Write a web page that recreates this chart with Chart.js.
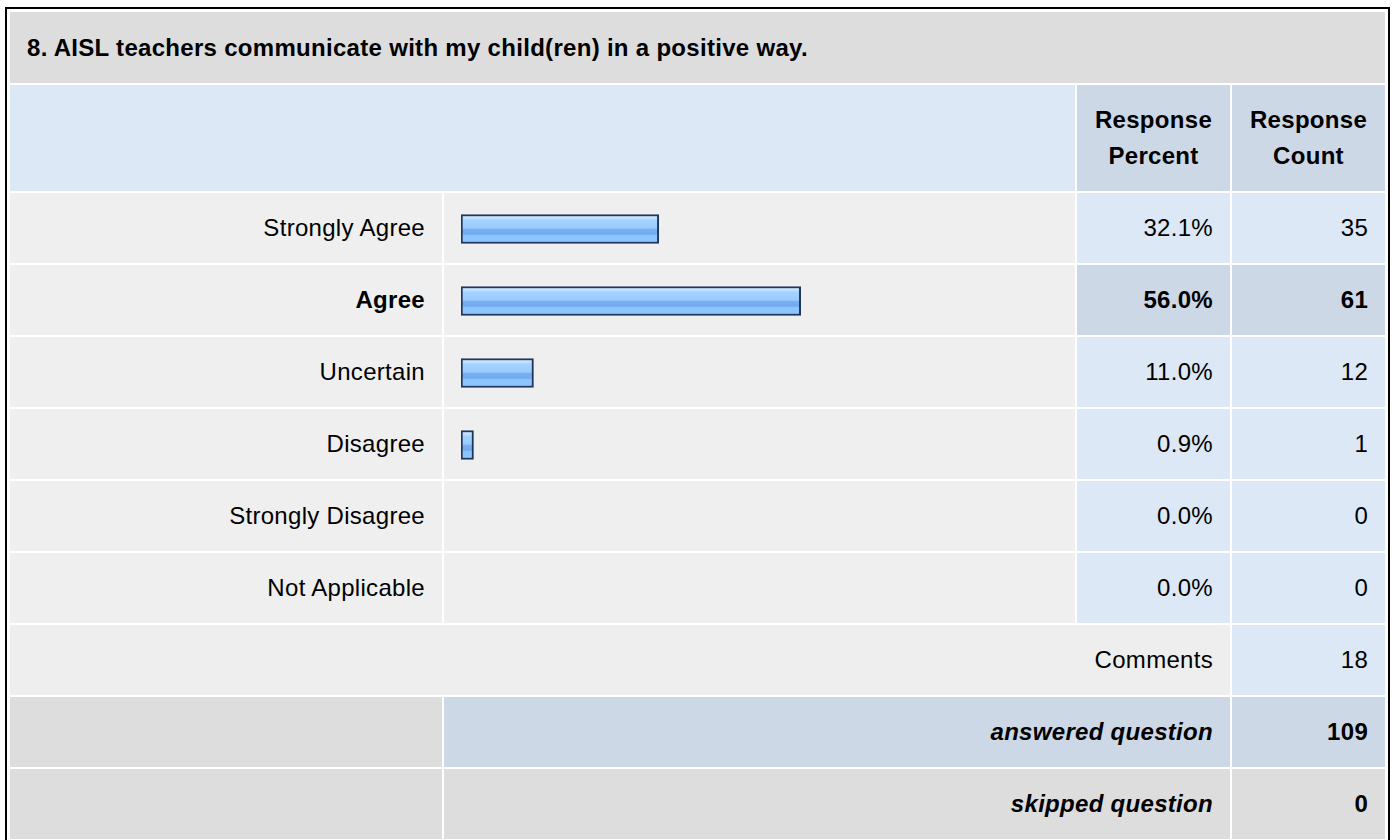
<!DOCTYPE html>
<html>
<head>
<meta charset="utf-8">
<script src="https://cdn.jsdelivr.net/npm/chart.js@4.4.0/dist/chart.umd.min.js"></script>
<style>
  html, body { margin: 0; padding: 0; background: #fff; }
  body { width: 1394px; height: 840px; overflow: hidden; position: relative;
         font-family: "Liberation Sans", Arial, sans-serif; font-size: 24px; letter-spacing: 0.3px; color: #000; }
  #caja { position: absolute; left: 5px; top: 7px; width: 1385px; box-sizing: border-box;
          border: 2px solid #000; border-bottom: none; padding: 1px 1px 0 1px; }
  table { border-collapse: separate; border-spacing: 2px; table-layout: fixed; width: 1379px; }
  td { padding: 0 17px; height: 70px; vertical-align: middle; white-space: nowrap; }
  .titulo { background: #dddddd; font-weight: bold; height: 71px; text-align: left; }
  .cab { height: 106px; }
  .cabIzq { background: #dce8f5; }
  .cabCol { background: #cdd8e6; font-weight: bold; text-align: center; line-height: 36px; padding: 0; }
  .etiq { background: #efefef; text-align: right; }
  .barra { background: #efefef; padding: 0; }
  .num { background: #dce8f5; text-align: right; }
  .fuerte .etiq, .fuerte .num { font-weight: bold; }
  .fuerte .num { background: #cdd8e6; }
  .coment { background: #eeeeee; text-align: right; }
  .gris { background: #dddddd; }
  .resumen { text-align: right; font-weight: bold; font-style: italic; }
  .resAzul { background: #cdd8e6; }
  .numRes { text-align: right; font-weight: bold; }
  #zonaGrafico { position: absolute; }
</style>
</head>
<body>
<div id="caja">
  <table id="tabla">
    <colgroup>
      <col style="width:432px"><col style="width:631px"><col style="width:153px"><col style="width:153px">
    </colgroup>
    <tbody id="cuerpo"></tbody>
  </table>
</div>
<div id="zonaGrafico"><canvas id="graficoBarras" width="631" height="432"></canvas></div>
<script>
const pregunta = '8. AISL teachers communicate with my child(ren) in a positive way.';
const categorias = ['Strongly Agree', 'Agree', 'Uncertain', 'Disagree', 'Strongly Disagree', 'Not Applicable'];
const porcentajes = [32.1, 56.0, 11.0, 0.9, 0.0, 0.0];
const conteos = [35, 61, 12, 1, 0, 0];
const comentarios = 18;
const respondidas = 109;
const omitidas = 0;

const baseBarra = -1.2;

function armarTabla() {
  const cuerpo = document.getElementById('cuerpo');
  let html = '';
  html += '<tr><td class="titulo" colspan="4">' + pregunta + '</td></tr>';
  html += '<tr class="cab"><td class="cabIzq" colspan="2"></td>' +
          '<td class="cabCol">Response<br>Percent</td><td class="cabCol">Response<br>Count</td></tr>';

  // la fila con mas respuestas va en negrita
  const maximo = Math.max.apply(null, conteos);
  categorias.forEach(function (cat, i) {
    const clase = conteos[i] === maximo ? ' class="fuerte"' : '';
    html += '<tr' + clase + '><td class="etiq">' + cat + '</td>' +
            '<td class="barra' + (i === 0 ? '" id="celdaBarra' : '') + '"></td>' +
            '<td class="num">' + porcentajes[i].toFixed(1) + '%</td>' +
            '<td class="num">' + conteos[i] + '</td></tr>';
  });

  html += '<tr><td class="coment" colspan="3">Comments</td><td class="num">' + comentarios + '</td></tr>';
  html += '<tr><td class="gris"></td><td class="resumen resAzul" colspan="2">answered question</td>' +
          '<td class="numRes resAzul">' + respondidas + '</td></tr>';
  html += '<tr><td class="gris"></td><td class="resumen gris" colspan="2">skipped question</td>' +
          '<td class="numRes gris">' + omitidas + '</td></tr>';
  cuerpo.innerHTML = html;
}

function colorBarra(context) {
  const valor = context.raw;
  if (!valor || valor <= 0) return 'rgba(0,0,0,0)';
  const chart = context.chart;
  if (!chart.chartArea || !chart.scales.y) return '#99ccff';
  const yc = chart.scales.y.getPixelForValue(context.dataIndex);
  const g = chart.ctx.createLinearGradient(0, yc - 14.5, 0, yc + 14.5);
  g.addColorStop(0.00, '#d2e9ff');
  g.addColorStop(0.12, '#c4e2ff');
  g.addColorStop(0.20, '#a3d2ff');
  g.addColorStop(0.46, '#99ccff');
  g.addColorStop(0.52, '#78afef');
  g.addColorStop(0.68, '#72abee');
  g.addColorStop(0.73, '#8cc5ff');
  g.addColorStop(1.00, '#8ec7ff');
  return g;
}

function renderGrafico() {
  const celda = document.getElementById('celdaBarra').getBoundingClientRect();
  const zona = document.getElementById('zonaGrafico');
  zona.style.left = celda.left + 'px';
  zona.style.top = celda.top + 'px';

  new Chart(document.getElementById('graficoBarras'), {
    type: 'bar',
    data: {
      labels: categorias,
      datasets: [{
        data: porcentajes,
        base: baseBarra,
        barThickness: 29,
        borderSkipped: false,
        borderColor: '#1d365a',
        borderWidth: function (ctx) { return ctx.raw > 0 ? 2 : 0; },
        backgroundColor: colorBarra
      }]
    },
    options: {
      indexAxis: 'y',
      responsive: false,
      animation: false,
      layout: { padding: { left: 17, right: 13, top: 0, bottom: 0 } },
      scales: {
        x: { min: baseBarra, max: 100, display: false },
        y: { display: false }
      },
      plugins: {
        legend: { display: false },
        tooltip: { enabled: false }
      }
    }
  });
}

armarTabla();
renderGrafico();
</script>
</body>
</html>
